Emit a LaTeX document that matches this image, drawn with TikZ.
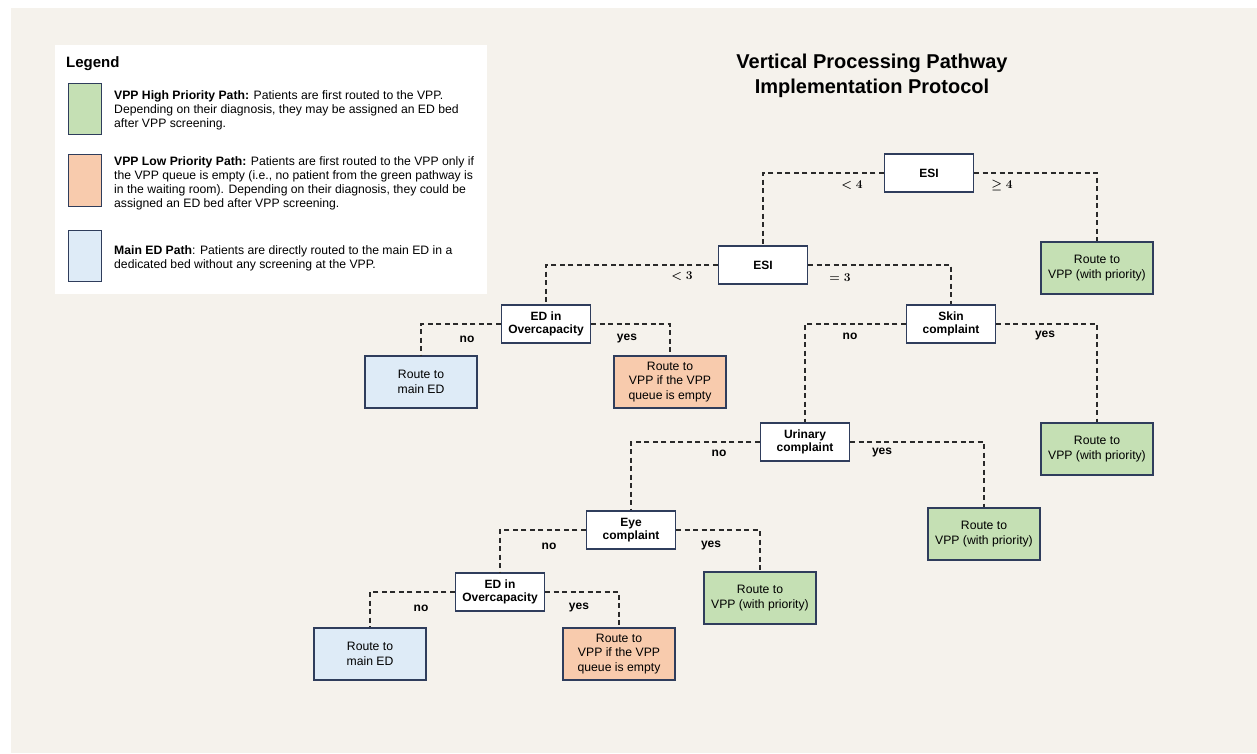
\documentclass[tikz,border=0pt]{standalone}
\usepackage{fontspec}
\setmainfont{Liberation Sans}
\usepackage{amsmath}
\begin{document}
\begin{tikzpicture}[x=1pt,y=-1pt,
  bordc/.style={draw=boxline, line width=1.1pt},
  decision/.style={bordc, fill=white, minimum width=89pt, minimum height=38pt, inner sep=1pt, align=center, font=\fontsize{12}{13}\selectfont\bfseries},
  outcome/.style={bordc, minimum width=112pt, minimum height=52pt, inner sep=1pt, align=center, font=\fontsize{12.2}{14.5}\selectfont},
  greenbox/.style={outcome, fill=hgreen},
  orangebox/.style={outcome, fill=lorange},
  bluebox/.style={outcome, fill=mblue},
  conn/.style={draw=connc, line width=1.1pt, dash pattern=on 5pt off 3.5pt},
  lbl/.style={inner sep=0pt, font=\fontsize{12}{13}\selectfont\bfseries},
  mlbl/.style={inner sep=0pt, font=\fontsize{13}{14}\selectfont\boldmath},
  swatch/.style={draw=boxline, line width=1pt},
  legtext/.style={anchor=north west, inner sep=0pt, align=left, font=\fontsize{12.2}{14}\selectfont}
]
\definecolor{bg}{HTML}{F5F2EC}
\definecolor{boxline}{HTML}{2F3D5C}
\definecolor{connc}{HTML}{2A2A2A}
\definecolor{hgreen}{HTML}{C5E0B4}
\definecolor{lorange}{HTML}{F8CBAD}
\definecolor{mblue}{HTML}{DEEBF7}
\useasboundingbox (0,0) rectangle (1257,753);
\fill[white] (0,0) rectangle (1257,753);
\fill[bg] (11,8) rectangle (1257,753);

% Legend
\fill[white] (55,45) rectangle (487,294);
\node[anchor=west, inner sep=0pt, font=\fontsize{15}{17}\selectfont\bfseries] (legtitle) at (66,64) {Legend};
\draw[swatch, fill=hgreen] (68,83) rectangle (101,134);
\draw[swatch, fill=lorange] (68,154) rectangle (101,206);
\draw[swatch, fill=mblue] (68,230) rectangle (101,281);
\node[legtext] (leg1) at (114,90.5) {\textbf{VPP High Priority Path:} Patients are first routed to the VPP.\\Depending on their diagnosis, they may be assigned an ED bed\\after VPP screening.};
\node[legtext] (leg2) at (114,156) {\textbf{VPP Low Priority Path:} Patients are first routed to the VPP only if\\the VPP queue is empty (i.e., no patient from the green pathway is\\in the waiting room). Depending on their diagnosis, they could be\\assigned an ED bed after VPP screening.};
\node[legtext] (leg3) at (114,245) {\textbf{Main ED Path}: Patients are directly routed to the main ED in a\\dedicated bed without any screening at the VPP.};

% Title
\node[align=center, inner sep=0pt, font=\fontsize{20}{25}\selectfont\bfseries] (title) at (872,76) {Vertical Processing Pathway\\Implementation Protocol};

% Tree nodes
\node[decision] (esi1) at (929,173) {ESI};
\node[decision] (esi2) at (763,265) {ESI};
\node[greenbox] (g1) at (1097,268) {Route to\\VPP (with priority)};
\node[decision] (edo1) at (546,324) {ED in\\Overcapacity};
\node[bluebox] (b1) at (421,382) {Route to\\main ED};
\node[orangebox] (o1) at (670,382) {Route to\\VPP if the VPP\\queue is empty};
\node[decision] (skin) at (951,324) {Skin\\complaint};
\node[greenbox] (g2) at (1097,449) {Route to\\VPP (with priority)};
\node[decision] (uri) at (805,442) {Urinary\\complaint};
\node[greenbox] (g3) at (984,534) {Route to\\VPP (with priority)};
\node[decision] (eye) at (631,530) {Eye\\complaint};
\node[greenbox] (g4) at (760,598) {Route to\\VPP (with priority)};
\node[decision] (edo2) at (500,592) {ED in\\Overcapacity};
\node[bluebox] (b2) at (370,654) {Route to\\main ED};
\node[orangebox] (o2) at (619,654) {Route to\\VPP if the VPP\\queue is empty};

% Connectors
\draw[conn] (esi1.west) -| (esi2.north);
\draw[conn] (esi1.east) -| (g1.north);
\draw[conn] (esi2.west) -| (edo1.north);
\draw[conn] (esi2.east) -| (skin.north);
\draw[conn] (edo1.west) -| (b1.north);
\draw[conn] (edo1.east) -| (o1.north);
\draw[conn] (skin.west) -| (uri.north);
\draw[conn] (skin.east) -| (g2.north);
\draw[conn] (uri.west) -| (eye.north);
\draw[conn] (uri.east) -| (g3.north);
\draw[conn] (eye.west) -| (edo2.north);
\draw[conn] (eye.east) -| (g4.north);
\draw[conn] (edo2.west) -| (b2.north);
\draw[conn] (edo2.east) -| (o2.north);

% Labels
\node[mlbl] (l1) at (852,185) {$<\mathbf{4}$};
\node[mlbl] (l2) at (1002,185) {$\geq\mathbf{4}$};
\node[mlbl] (l3) at (682,276) {$<\mathbf{3}$};
\node[mlbl] (l4) at (840,278) {$=\mathbf{3}$};
\node[lbl] (l5) at (467,339) {no};
\node[lbl] (l6) at (627,339) {yes};
\node[lbl] (l7) at (850,336) {no};
\node[lbl] (l8) at (1045,336) {yes};
\node[lbl] (l9) at (719,453) {no};
\node[lbl] (l10) at (882,453) {yes};
\node[lbl] (l11) at (549,546) {no};
\node[lbl] (l12) at (711,546) {yes};
\node[lbl] (l13) at (421,608) {no};
\node[lbl] (l14) at (579,608) {yes};
\end{tikzpicture}
\end{document}
